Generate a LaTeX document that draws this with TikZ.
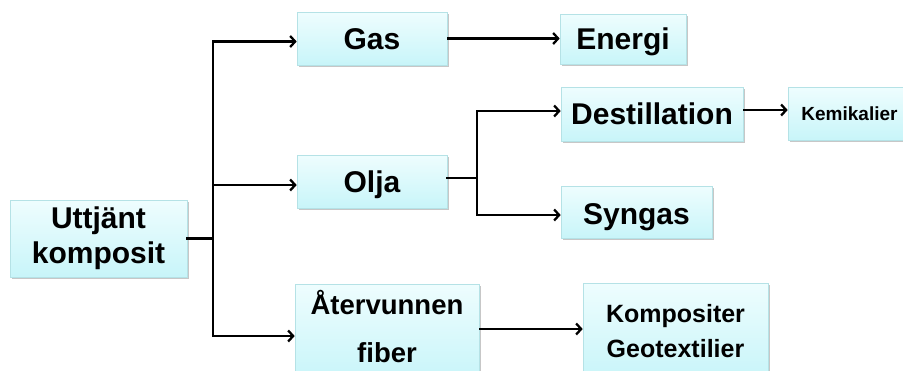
\documentclass[tikz,border=0pt]{standalone}
\usepackage{fontspec}
\setmainfont{Liberation Sans}
\usetikzlibrary{arrows.meta,shadows}
\definecolor{boxtop}{HTML}{EEFDFE}
\definecolor{boxbot}{HTML}{C8F5F9}
\definecolor{boxline}{HTML}{B5E2E6}
\tikzset{
  box/.style={draw=boxline, line width=0.6pt, top color=boxtop, bottom color=boxbot,
    drop shadow={shadow xshift=1.8pt, shadow yshift=-2pt, fill=black, opacity=0.22},
    inner sep=0pt, align=center, font=\bfseries\fontsize{30}{35}\selectfont},
  one/.style={text height=21.5pt, text depth=0pt},
  link/.style={line width=2.3pt, line cap=rect},
  arr/.style={line width=2.3pt, -{Straight Barb[length=5pt,width=11pt,line width=2.3pt]}}
}
\begin{document}
\begin{tikzpicture}[x=1pt,y=-1pt]
\useasboundingbox (0,0) rectangle (903,370);
\fill[white] (0,0) rectangle (903,370);

% boxes
\node[box, minimum width=177pt, minimum height=77pt] (src) at (98.5,238.5) {Uttjänt\\komposit};
\node[box, one, minimum width=150pt, minimum height=53pt] (gas) at (372,38.5) {Gas};
\node[box, one, minimum width=150pt, minimum height=53pt] (olja) at (372,181.5) {Olja};
\node[box, minimum width=184pt, minimum height=96pt, text depth=11pt,
      font=\bfseries\fontsize{27.5}{48}\selectfont] (fiber) at (387,332) {Återvunnen\\fiber};
\node[box, one, minimum width=126pt, minimum height=50pt] (energi) at (623,39) {Energi};
\node[box, one, minimum width=182pt, minimum height=54pt] (dest) at (652,114) {Destillation};
\node[box, one, minimum width=151pt, minimum height=52pt, text height=25pt] (syngas) at (636.5,212) {Syngas};
\node[box, minimum width=123pt, minimum height=53pt,
      font=\bfseries\fontsize{19}{23}\selectfont] (kemi) at (849.5,113.5) {Kemikalier};
\node[box, minimum width=185pt, minimum height=96pt,
      font=\bfseries\fontsize{25}{35}\selectfont] (komp) at (675.5,331) {Kompositer\\Geotextilier};

% branch points
\coordinate (spine) at (213,238.5);
\coordinate (fork) at (477,178);

% from the source to the three products
\draw[link] (src.east) -- (spine);
\draw[link] ([yshift=-3pt]gas.west -| spine) -- ([yshift=-4pt]fiber.west -| spine);
\draw[arr] ([yshift=-3pt]gas.west -| spine) -- ([yshift=-3pt]gas.west);
\draw[arr] ([yshift=-3.5pt]olja.west -| spine) -- ([yshift=-3.5pt]olja.west);
\draw[arr] ([yshift=-4pt]fiber.west -| spine) -- ([yshift=-4pt]fiber.west);

% second stage
\draw[arr] (gas.east) -- (gas.east -| energi.west);
\draw[link] ([yshift=3.5pt]olja.east) -- (fork);
\draw[link] ([yshift=3pt]dest.west -| fork) -- ([yshift=-3pt]syngas.west -| fork);
\draw[arr] ([yshift=3pt]dest.west -| fork) -- ([yshift=3pt]dest.west);
\draw[arr] ([yshift=-3pt]syngas.west -| fork) -- ([yshift=-3pt]syngas.west);
\draw[arr] ([yshift=4pt]dest.east) -- ([yshift=4pt]dest.east -| kemi.west);
\draw[arr] ([yshift=2pt]fiber.east |- komp.west) -- ([yshift=2pt]komp.west);
\end{tikzpicture}
\end{document}
